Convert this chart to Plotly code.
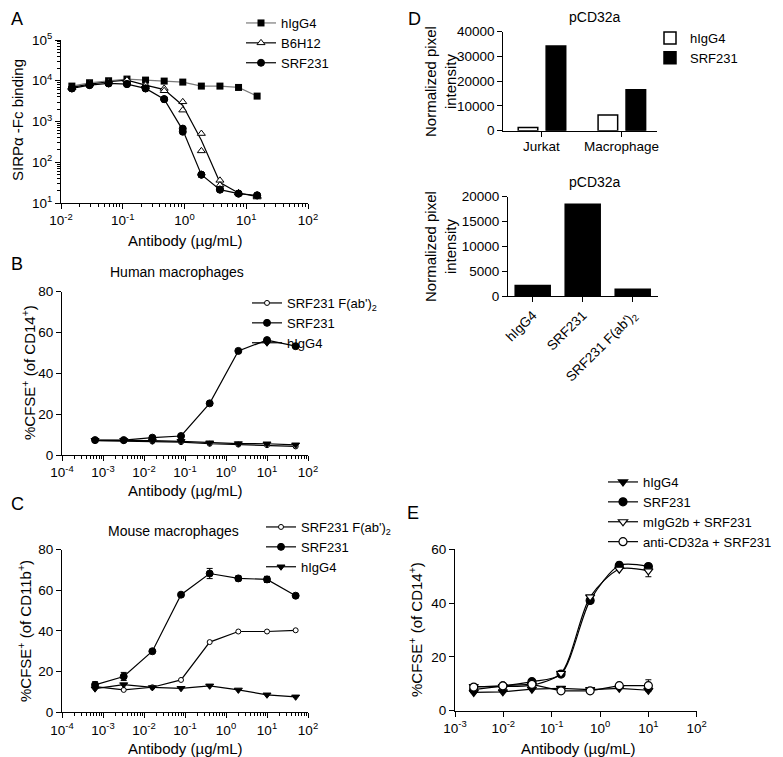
import plotly.graph_objects as go

FONT = "Liberation Sans, Arial, sans-serif"
# page body has an 8 px margin; the figure is sized so it fits the 783x757 window exactly
OFF = 8
W, H = 783 - OFF, 757 - OFF

# ---------------- data ----------------
# Panel A
a_conc = [0.015, 0.029, 0.059, 0.117, 0.234, 0.469, 0.938, 1.875, 3.75, 7.5, 15]
a_higg4 = [7390, 8930, 10000, 10990, 10380, 9810, 9270, 7390, 7390, 6850, 4200]
a_b6h12_rep1 = [6850, 8280, 9450, 10380, 7820, 6480, 3040, 506, 36, 17.6, 14.9]
a_b6h12_rep2 = [6850, 8280, 9450, 10380, 7820, 5680, 1900, 190, 27.5, 17.6, 14.0]
a_srf231_rep1 = [6480, 7820, 8600, 8280, 6480, 3540, 670, 49.6, 21.3, 17.0, 15.4]
a_srf231_rep2 = [6480, 7820, 8600, 8280, 6480, 3540, 560, 49.6, 21.3, 17.0, 15.4]

# Panel B (human macrophages)
b_conc = [0.00064, 0.0032, 0.016, 0.08, 0.4, 2, 10, 50]
b_fab = [7.0, 6.8, 6.6, 6.3, 5.5, 5.1, 4.8, 4.2]
b_srf231 = [7.3, 7.3, 8.5, 9.3, 25.3, 51.0, 56.3, 53.3]
b_higg4 = [7.2, 7.2, 7.0, 6.7, 6.0, 5.6, 5.5, 5.0]

# Panel C (mouse macrophages)
c_conc = [0.00064, 0.0032, 0.016, 0.08, 0.4, 2, 10, 50]
c_fab = [12.6, 11.0, 12.3, 15.9, 34.5, 39.7, 39.7, 40.3]
c_srf231 = [13.5, 17.6, 30.0, 57.8, 68.2, 65.8, 65.3, 57.3]
c_srf231_err = [1.5, 2.0, 0, 0, 2.5, 1.2, 1.5, 0]
c_higg4 = [11.6, 13.6, 12.2, 11.8, 13.0, 11.0, 8.6, 7.6]

# Panel D
d1_cells = ["Jurkat", "Macrophage"]
d1_higg4 = [1300, 6300]
d1_srf231 = [34200, 16500]
d2_labels = ["hIgG4", "SRF231", "SRF231 F(ab')<sub>2</sub>"]
d2_values = [2100, 18500, 1350]

# Panel E
e_conc = [0.00244, 0.00977, 0.039, 0.156, 0.625, 2.5, 10]
e_higg4 = [6.8, 7.0, 8.0, 8.3, 7.8, 8.3, 7.6]
e_srf231 = [7.8, 9.2, 10.8, 13.6, 41.0, 54.0, 53.6]
e_srf231_err = [0, 0, 0, 0, 1.0, 1.2, 0.8]
e_migg = [9.0, 9.0, 9.5, 13.9, 42.3, 52.6, 52.0]
e_migg_err = [0, 0, 0, 0, 0, 0, 2.2]
e_anti = [8.8, 9.2, 9.8, 7.4, 7.4, 9.3, 9.3]
e_anti_err = [0, 0, 0, 0, 0, 0, 2.2]

# tick labels
a_xticks = [0.01, 0.1, 1, 10, 100]
a_xtext = ["10<sup>-2</sup>", "10<sup>-1</sup>", "10<sup>0</sup>", "10<sup>1</sup>", "10<sup>2</sup>"]
a_yticks = [10, 100, 1000, 10000, 100000]
a_ytext = ["10<sup>1</sup>", "10<sup>2</sup>", "10<sup>3</sup>", "10<sup>4</sup>", "10<sup>5</sup>"]
bc_xticks = [0.0001, 0.001, 0.01, 0.1, 1, 10, 100]
bc_xtext = ["10<sup>-4</sup>", "10<sup>-3</sup>", "10<sup>-2</sup>", "10<sup>-1</sup>",
            "10<sup>0</sup>", "10<sup>1</sup>", "10<sup>2</sup>"]
e_xticks = [0.001, 0.01, 0.1, 1, 10, 100]
e_xtext = ["10<sup>-3</sup>", "10<sup>-2</sup>", "10<sup>-1</sup>", "10<sup>0</sup>",
           "10<sup>1</sup>", "10<sup>2</sup>"]


def px(x):
    return (x - OFF) / W


def py(y):
    return 1 - (y - OFF) / H


def mean2(a, b):
    return [(u + v) / 2 for u, v in zip(a, b)]


fig = go.Figure()

BLK = "black"
LW = 1.2

# ---------------- Panel A ----------------
fig.add_trace(go.Scatter(x=a_conc, y=a_higg4, mode="lines+markers", name="hIgG4",
                         line=dict(color="#7a7a7a", width=LW),
                         marker=dict(symbol="square", size=7, color=BLK),
                         xaxis="x", yaxis="y", legend="legend"))
for nm, r1, r2, sym, fill in [("B6H12", a_b6h12_rep1, a_b6h12_rep2, "triangle-up", "white"),
                              ("SRF231", a_srf231_rep1, a_srf231_rep2, "circle", BLK)]:
    fig.add_trace(go.Scatter(x=a_conc, y=mean2(r1, r2), mode="lines", showlegend=False,
                             line=dict(color=BLK, width=LW), xaxis="x", yaxis="y"))
    fig.add_trace(go.Scatter(x=a_conc + a_conc, y=r1 + r2, mode="markers", showlegend=False,
                             marker=dict(symbol=sym, size=7, color=fill, line=dict(color=BLK, width=1)),
                             xaxis="x", yaxis="y"))
    fig.add_trace(go.Scatter(x=[None], y=[None], mode="lines+markers", name=nm,
                             line=dict(color=BLK, width=LW),
                             marker=dict(symbol=sym, size=7, color=fill, line=dict(color=BLK, width=1)),
                             xaxis="x", yaxis="y", legend="legend"))

# ---------------- Panel B ----------------
for nm, ys, sym, fill, sz in [("SRF231 F(ab')<sub>2</sub>", b_fab, "circle", "white", 5),
                              ("SRF231", b_srf231, "circle", BLK, 7),
                              ("hIgG4", b_higg4, "triangle-down", BLK, 7)]:
    fig.add_trace(go.Scatter(x=b_conc, y=ys, mode="lines+markers", name=nm,
                             line=dict(color=BLK, width=LW),
                             marker=dict(symbol=sym, size=sz, color=fill, line=dict(color=BLK, width=1)),
                             xaxis="x2", yaxis="y2", legend="legend2"))

# ---------------- Panel C ----------------
for nm, ys, err, sym, fill, sz in [("SRF231 F(ab')<sub>2</sub>", c_fab, None, "circle", "white", 5),
                                   ("SRF231", c_srf231, c_srf231_err, "circle", BLK, 7),
                                   ("hIgG4", c_higg4, None, "triangle-down", BLK, 7)]:
    fig.add_trace(go.Scatter(x=c_conc, y=ys, mode="lines+markers", name=nm,
                             line=dict(color=BLK, width=LW),
                             error_y=dict(type="data", array=err, visible=err is not None,
                                          color=BLK, thickness=1, width=3),
                             marker=dict(symbol=sym, size=sz, color=fill, line=dict(color=BLK, width=1)),
                             xaxis="x3", yaxis="y3", legend="legend3"))

# ---------------- Panel D ----------------
fig.add_trace(go.Bar(x=d1_cells, y=d1_higg4, name="hIgG4",
                     marker=dict(color="white", line=dict(color=BLK, width=1.5)),
                     xaxis="x4", yaxis="y4", legend="legend4"))
fig.add_trace(go.Bar(x=d1_cells, y=d1_srf231, name="SRF231",
                     marker=dict(color=BLK, line=dict(color=BLK, width=1.5)),
                     xaxis="x4", yaxis="y4", legend="legend4"))
fig.add_trace(go.Bar(x=d2_labels, y=d2_values, showlegend=False, width=0.7,
                     marker=dict(color=BLK, line=dict(color=BLK, width=1.5)),
                     xaxis="x5", yaxis="y5"))

# ---------------- Panel E ----------------
for nm, ys, err, sym, fill, shape in [("hIgG4", e_higg4, None, "triangle-down", BLK, "linear"),
                                      ("SRF231", e_srf231, e_srf231_err, "circle", BLK, "spline"),
                                      ("mIgG2b + SRF231", e_migg, e_migg_err, "triangle-down", "white", "spline"),
                                      ("anti-CD32a + SRF231", e_anti, e_anti_err, "circle", "white", "linear")]:
    fig.add_trace(go.Scatter(x=e_conc, y=ys, mode="lines+markers", name=nm,
                             line=dict(color=BLK, width=LW, shape=shape, smoothing=0.8),
                             error_y=dict(type="data", array=err, visible=err is not None,
                                          color=BLK, thickness=1, width=3),
                             marker=dict(symbol=sym, size=8, color=fill, line=dict(color=BLK, width=1.2)),
                             xaxis="x6", yaxis="y6", legend="legend5"))

# ---------------- axes ----------------
TF = dict(family=FONT, size=13.5, color=BLK)
common = dict(showline=True, linecolor=BLK, linewidth=1.2, ticks="outside", ticklen=5,
              tickwidth=1.2, tickcolor=BLK, showgrid=False, zeroline=False, tickfont=TF,
              mirror=False, automargin=False)
minor_log = dict(ticks="outside", ticklen=3, tickwidth=1, tickcolor=BLK, dtick="D1", showgrid=False)

layout = dict(
    template="none",
    width=W, height=H, margin=dict(l=0, r=0, t=0, b=0, pad=0, autoexpand=False),
    paper_bgcolor="white", plot_bgcolor="white",
    font=dict(family=FONT, size=13.5, color=BLK),
    bargap=0.3, bargroupgap=0.3, barmode="group",
    xaxis=dict(common, type="log", range=[-2, 2], domain=[px(61), px(308)], anchor="y",
               tickmode="array", tickvals=a_xticks, ticktext=a_xtext, minor=minor_log),
    yaxis=dict(common, type="log", range=[1, 5], domain=[py(203), py(40)], anchor="x",
               tickmode="array", tickvals=a_yticks, ticktext=a_ytext, minor=minor_log),
    xaxis2=dict(common, type="log", range=[-4, 2], domain=[px(62), px(308)], anchor="y2",
                tickmode="array", tickvals=bc_xticks, ticktext=bc_xtext, minor=minor_log),
    yaxis2=dict(common, range=[0, 80], dtick=20, domain=[py(455), py(291.7)], anchor="x2"),
    xaxis3=dict(common, type="log", range=[-4, 2], domain=[px(62), px(308)], anchor="y3",
                tickmode="array", tickvals=bc_xticks, ticktext=bc_xtext, minor=minor_log),
    yaxis3=dict(common, range=[0, 80], dtick=20, domain=[py(712.3), py(549.5)], anchor="x3"),
    xaxis4=dict(common, type="category", range=[-0.484, 1.44], domain=[px(503.3), px(657)],
                anchor="y4", showticklabels=False),
    yaxis4=dict(common, range=[0, 40000], dtick=10000, tickformat="d",
                domain=[py(130.7), py(31.7)], anchor="x4"),
    xaxis5=dict(common, type="category", range=[-0.494, 2.506], domain=[px(508), px(658)],
                anchor="y5", tickangle=-45),
    yaxis5=dict(common, range=[0, 20000], dtick=5000, tickformat="d",
                domain=[py(296), py(196.7)], anchor="x5"),
    xaxis6=dict(common, type="log", range=[-3, 2], domain=[px(455), px(696.7)], anchor="y6",
                tickmode="array", tickvals=e_xticks, ticktext=e_xtext),
    yaxis6=dict(common, range=[0, 60], dtick=20, domain=[py(710.7), py(549.3)], anchor="x6"),
)


def leg(x, y):
    return dict(x=px(x), y=py(y), xanchor="left", yanchor="top", bgcolor="rgba(0,0,0,0)",
                font=dict(family=FONT, size=13, color=BLK), tracegroupgap=0, itemwidth=30,
                borderwidth=0)


layout["legend"] = leg(241, 8)
layout["legend2"] = leg(247, 288)
layout["legend3"] = leg(261, 512)
layout["legend4"] = leg(650, 23)
layout["legend5"] = leg(603, 467)

fig.update_layout(**layout)

# ---------------- text annotations ----------------
ann = []


def text(x, y, t, size=15, angle=0, xa="center", ya="middle"):
    ann.append(dict(x=px(x), y=py(y), xref="paper", yref="paper", text=t, showarrow=False,
                    textangle=angle, xanchor=xa, yanchor=ya,
                    font=dict(family=FONT, size=size, color=BLK)))


# panel letters
text(17, 19, "A", 18)
text(414, 19, "D", 18)
text(17, 264, "B", 18)
text(17, 504, "C", 18)
text(413, 513, "E", 18)

# titles
text(177, 272, "Human macrophages", 14)
text(173, 531, "Mouse macrophages", 14)
text(595, 17, "pCD32a", 14)
text(595, 182, "pCD32a", 14)

# axis titles
text(185, 241, "Antibody (µg/mL)")
text(185, 491, "Antibody (µg/mL)")
text(185, 748, "Antibody (µg/mL)")
text(578, 748, "Antibody (µg/mL)")
text(17, 120, "SIRPα -Fc binding", angle=-90)
text(28, 373, "%CFSE<sup>+</sup> (of CD14<sup>+</sup>)", angle=-90)
text(24, 631, "%CFSE<sup>+</sup> (of CD11b<sup>+</sup>)", angle=-90)
text(415, 630, "%CFSE<sup>+</sup> (of CD14<sup>+</sup>)", angle=-90)
text(440, 81, "Normalized pixel<br>intensity", angle=-90)
text(440, 246, "Normalized pixel<br>intensity", angle=-90)

# category labels for top D
for c in d1_cells:
    ann.append(dict(x=c, y=0, xref="x4", yref="y4", text=c, showarrow=False,
                    yshift=-16, font=dict(family=FONT, size=13.5, color=BLK)))

fig.update_layout(annotations=ann)

fig.write_html("out.html")
